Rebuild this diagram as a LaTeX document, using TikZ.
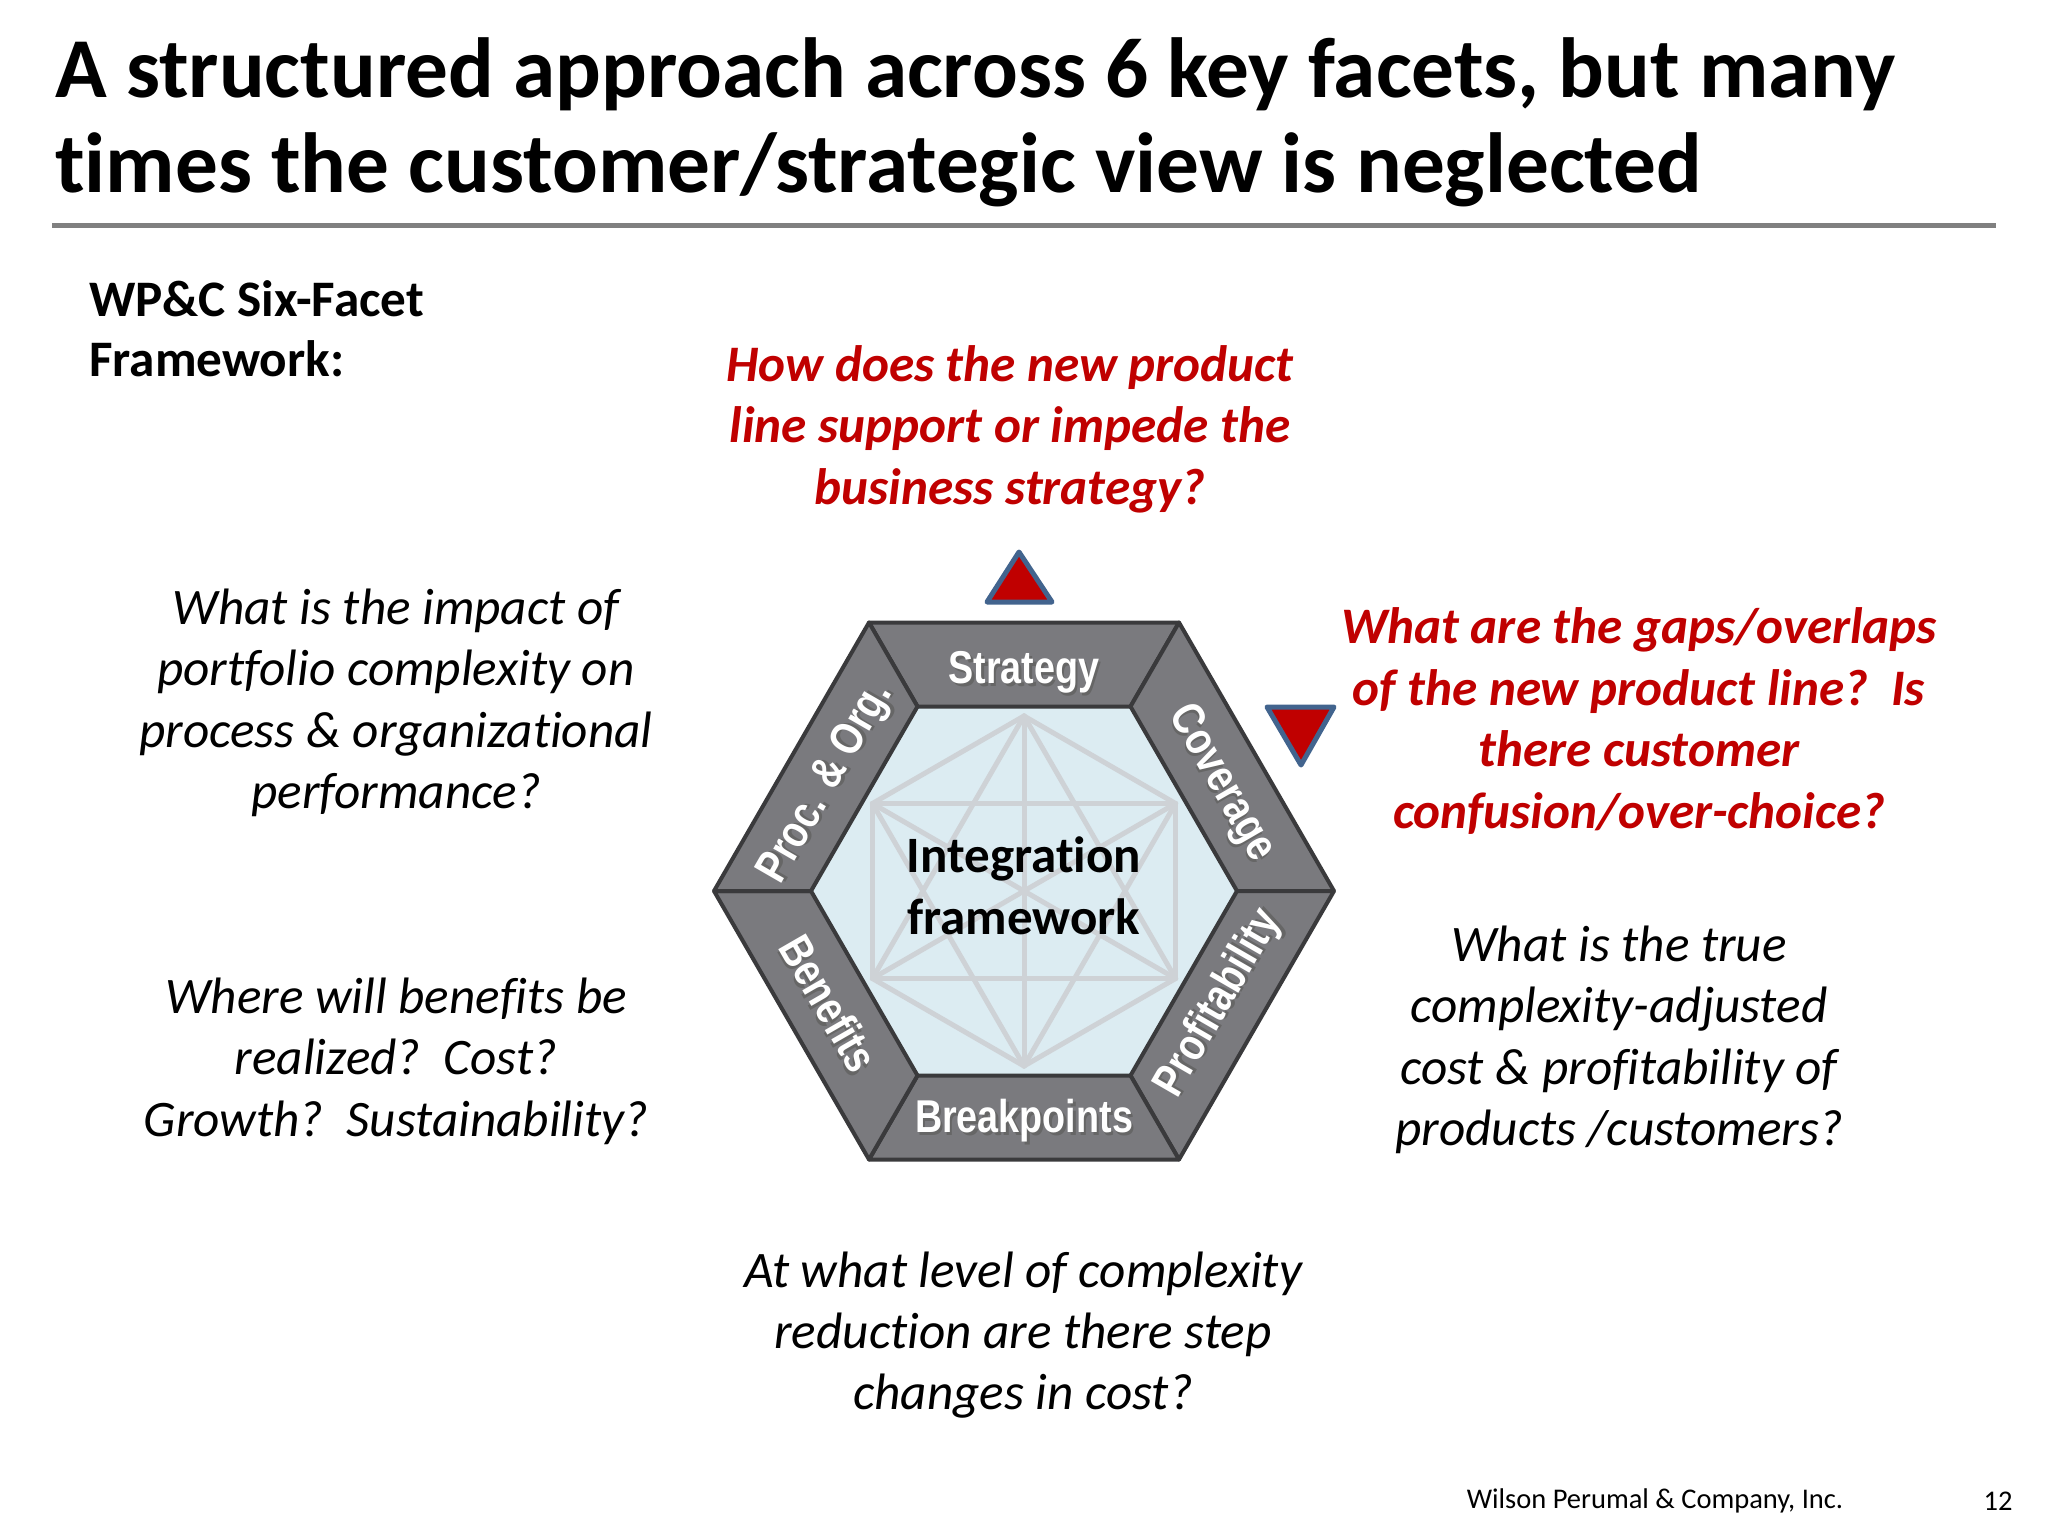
\documentclass[tikz,border=0pt]{standalone}
\usepackage{fontspec}
\setmainfont{Carlito}[Ligatures=NoCommon]
\newfontfamily\facetfont[FakeStretch=0.82]{Liberation Sans}
\definecolor{wpred}{RGB}{192,0,0}
\definecolor{seggray}{RGB}{122,122,126}
\definecolor{segline}{RGB}{58,58,60}
\definecolor{innerblue}{RGB}{220,236,242}
\definecolor{webgray}{RGB}{206,210,214}
\definecolor{tribord}{RGB}{66,100,142}
\definecolor{rulegray}{RGB}{128,128,128}
\newcommand\shtxt[1]{\leavevmode\rlap{\kern2.5pt\raisebox{-2.5pt}{\textcolor{black!60}{#1}}}#1}
\begin{document}
\begin{tikzpicture}[x=1pt,y=-1pt]
\tikzset{
  titletext/.style={anchor=base west, inner sep=0pt, font=\fontsize{85.3}{95}\selectfont\bfseries},
  qtext/.style={align=center, inner sep=0pt, text=black, font=\fontsize{51.2}{61.4}\selectfont\itshape},
  qred/.style={align=center, inner sep=0pt, text=wpred, font=\fontsize{51.2}{61.4}\selectfont\bfseries\itshape},
  facet/.style={inner sep=0pt, text=white, font=\facetfont\fontsize{46}{46}\selectfont\bfseries},
  seg/.style={fill=seggray, draw=segline, line width=4pt, line join=round},
  tri/.style={fill=wpred, draw=tribord, line width=5pt, line join=round},
  web/.style={draw=webgray, line width=5pt, line cap=round},
}
\useasboundingbox[fill=white] (0,0) rectangle (2048,1536);

% title
\node[titletext] (t1) at (55,98) {A structured approach across 6 key facets, but many};
\node[titletext] (t2) at (55,193) {times the customer/strategic view is neglected};
\coordinate (r1) at (52,225);
\coordinate (r2) at (1996,225);
\draw[draw=rulegray, line width=5pt] (r1) -- (r2);

\node[anchor=west, align=left, inner sep=0pt, font=\fontsize{51.2}{60}\selectfont\bfseries] (wpc) at (89,329) {WP\&C Six-Facet\\Framework:};

% hexagon coordinates
\coordinate (o0) at (1334,891);
\coordinate (o1) at (1179,622.5);
\coordinate (o2) at (869,622.5);
\coordinate (o3) at (714,891);
\coordinate (o4) at (869,1159.5);
\coordinate (o5) at (1179,1159.5);
\coordinate (i0) at (1237,891);
\coordinate (i1) at (1130.5,706.5);
\coordinate (i2) at (917.5,706.5);
\coordinate (i3) at (811,891);
\coordinate (i4) at (917.5,1075.5);
\coordinate (i5) at (1130.5,1075.5);

% inner area
\fill[innerblue] (i0) -- (i1) -- (i2) -- (i3) -- (i4) -- (i5) -- cycle;
\coordinate (p1) at (1024,716);
\coordinate (p2) at (1175.6,803.5);
\coordinate (p3) at (1175.6,978.5);
\coordinate (p4) at (1024,1066);
\coordinate (p5) at (872.4,978.5);
\coordinate (p6) at (872.4,803.5);
\foreach \a/\b in {p1/p2,p1/p3,p1/p4,p1/p5,p1/p6,p2/p3,p2/p4,p2/p5,p2/p6,p3/p4,p3/p5,p3/p6,p4/p5,p4/p6,p5/p6}
  \draw[web] (\a) -- (\b);

% segments
\draw[seg] (o1) -- (o2) -- (i2) -- (i1) -- cycle;
\draw[seg] (o0) -- (o1) -- (i1) -- (i0) -- cycle;
\draw[seg] (o5) -- (o0) -- (i0) -- (i5) -- cycle;
\draw[seg] (o4) -- (o5) -- (i5) -- (i4) -- cycle;
\draw[seg] (o3) -- (o4) -- (i4) -- (i3) -- cycle;
\draw[seg] (o2) -- (o3) -- (i3) -- (i2) -- cycle;

% facet labels
\node[facet] (lStr) at (1024,674) {\shtxt{Strategy}};
\node[facet, rotate=-60] (lCov) at (1220,784) {\shtxt{Coverage}};
\node[facet, rotate=60] (lPro) at (1220,1004) {\shtxt{Profitability}};
\node[facet] (lBrk) at (1024,1122) {\shtxt{Breakpoints}};
\node[facet, rotate=-60] (lBen) at (828,1004) {\shtxt{Benefits}};
\node[facet, rotate=60] (lPrc) at (828,784) {\shtxt{Proc. \& Org.}};

\node[align=center, inner sep=0pt, font=\fontsize{51}{62}\selectfont\bfseries] (integ) at (1024,886) {Integration\\framework};

% triangles
\coordinate (ua) at (1019,552);
\coordinate (ub) at (987,602);
\coordinate (uc) at (1052,602);
\draw[tri] (ua) -- (ub) -- (uc) -- cycle;
\coordinate (da) at (1267,707);
\coordinate (db) at (1334,707);
\coordinate (dc) at (1301,765);
\draw[tri] (da) -- (db) -- (dc) -- cycle;

% questions
\node[qred] (qtop) at (1010,429) {How does the new product\\line support or impede the\\business strategy?};
\node[qred] (qright) at (1639,721) {What are the gaps/overlaps\\of the new product line?\ \ Is\\there customer\\confusion/over-choice?};
\node[qtext] (qproc) at (396,703) {What is the impact of\\portfolio complexity on\\process \& organizational\\performance?};
\node[qtext] (qben) at (396,1061) {Where will benefits be\\realized?\ \ Cost?\\Growth?\ \ Sustainability?};
\node[qtext] (qprof) at (1619,1040) {What is the true\\complexity-adjusted\\cost \& profitability of\\products /customers?};
\node[qtext] (qbrk) at (1023,1335) {At what level of complexity\\reduction are there step\\changes in cost?};

% footer
\node[inner sep=0pt, font=\fontsize{28.5}{32}\selectfont] (foot) at (1655,1501) {Wilson Perumal \& Company, Inc.};
\node[inner sep=0pt, font=\fontsize{28.5}{32}\selectfont] (pnum) at (1998,1501) {12};
\end{tikzpicture}
\end{document}
